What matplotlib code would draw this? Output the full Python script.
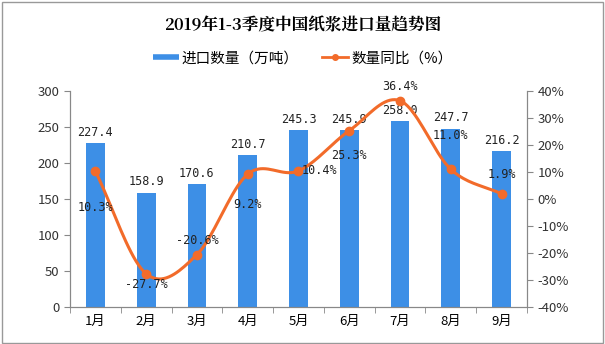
import numpy as np
import matplotlib
matplotlib.use("Agg")
import matplotlib.pyplot as plt
from matplotlib.patches import Rectangle
from matplotlib.lines import Line2D

plt.rcParams['font.family'] = ['Noto Sans CJK SC', 'DejaVu Sans']

months = ['1月', '2月', '3月', '4月', '5月', '6月', '7月', '8月', '9月']
imports = [227.4, 158.9, 170.6, 210.7, 245.3, 245.9, 258.0, 247.7, 216.2]
yoy = [10.3, -27.7, -20.6, 9.2, 10.4, 25.3, 36.4, 11.0, 1.9]
# where the % label sits relative to its point: offset in points
yoy_offset = [-26, -8, 10, -22, 0, -18, 10, 24, 14]

bar_color = '#3D8FE6'
line_color = '#F26B2A'


def smooth(x, y, n=20):
    # catmull-rom through the points, for the curved line
    x = np.asarray(x, float)
    y = np.asarray(y, float)
    px = np.concatenate([[2 * x[0] - x[1]], x, [2 * x[-1] - x[-2]]])
    py = np.concatenate([[2 * y[0] - y[1]], y, [2 * y[-1] - y[-2]]])
    xs, ys = [], []
    t = np.linspace(0, 1, n, endpoint=False)
    for i in range(1, len(px) - 2):
        for p, out in ((px, xs), (py, ys)):
            p0, p1, p2, p3 = p[i - 1], p[i], p[i + 1], p[i + 2]
            out.extend(0.5 * (2 * p1 + (-p0 + p2) * t
                              + (2 * p0 - 5 * p1 + 4 * p2 - p3) * t ** 2
                              + (-p0 + 3 * p1 - 3 * p2 + p3) * t ** 3))
    xs.append(x[-1])
    ys.append(y[-1])
    return np.array(xs), np.array(ys)


fig = plt.figure(figsize=(6.05, 3.44), dpi=100)
ax = fig.add_axes([0.1157, 0.1076, 0.7553, 0.6279])
x = np.arange(len(months))

ax.bar(x, imports, width=0.37, color=bar_color, zorder=2)
for xi, v in zip(x, imports):
    ax.annotate(f'{v:.1f}', (xi, v), xytext=(0, 3), textcoords='offset points',
                ha='center', va='bottom', fontsize=8.5, color='#222222',
                family='DejaVu Sans Mono')

ax.set_xlim(-0.5, len(months) - 0.5)
ax.set_ylim(0, 300)
ax.set_yticks(range(0, 301, 50))
ax.set_xticks(x)
ax.set_xticklabels(months, fontsize=9.5)
ax.set_xticks(np.arange(-0.5, len(months), 1), minor=True)
ax.tick_params(axis='x', which='major', length=0, pad=6)
ax.tick_params(axis='x', which='minor', length=4, color='#888888')
ax.tick_params(axis='y', length=4, color='#888888', labelsize=9.5, labelcolor='#333333')

ax2 = ax.twinx()
ax2.set_ylim(-40, 40)
ax2.set_yticks(range(-40, 41, 10))
ax2.set_yticklabels([f'{v}%' for v in range(-40, 41, 10)])
ax2.tick_params(axis='y', length=4, color='#888888', labelsize=9.5, labelcolor='#333333')

sx, sy = smooth(x, yoy)
ax2.plot(sx, sy, color=line_color, linewidth=2.2, zorder=3)
ax2.plot(x, yoy, 'o', color=line_color, markersize=6, zorder=4)
for xi, v, off in zip(x, yoy, yoy_offset):
    ax2.annotate(f'{v:.1f}%', (xi, v), xytext=(2 if off == 0 else 0, off),
                 textcoords='offset points', ha='left' if off == 0 else 'center',
                 va='center', fontsize=8.5, color='#222222',
                 family='DejaVu Sans Mono')

for a in (ax, ax2):
    a.spines['top'].set_visible(False)
    for s in ('left', 'right', 'bottom'):
        a.spines[s].set_color('#888888')

fig.text(0.5, 0.925, '2019年1-3季度中国纸浆进口量趋势图', ha='center', va='center',
         fontsize=12, fontweight='bold', family=['Noto Serif CJK SC', 'Noto Sans CJK SC', 'DejaVu Sans'])

handles = [Line2D([0], [0], color=bar_color, linewidth=4, solid_capstyle='butt'),
           Line2D([0], [0], color=line_color, marker='o', markersize=4, linewidth=2)]
fig.legend(handles, ['进口数量（万吨）', '数量同比（%）'], loc='center',
           bbox_to_anchor=(0.5, 0.831), ncol=2, frameon=False, fontsize=10.5,
           handlelength=1.8, columnspacing=1.6, handletextpad=0.2)

fig.patches.append(Rectangle((0.003, 0.004), 0.994, 0.99, transform=fig.transFigure,
                             fill=False, edgecolor='#999999', linewidth=1))

fig.savefig('out.png', dpi=100)
